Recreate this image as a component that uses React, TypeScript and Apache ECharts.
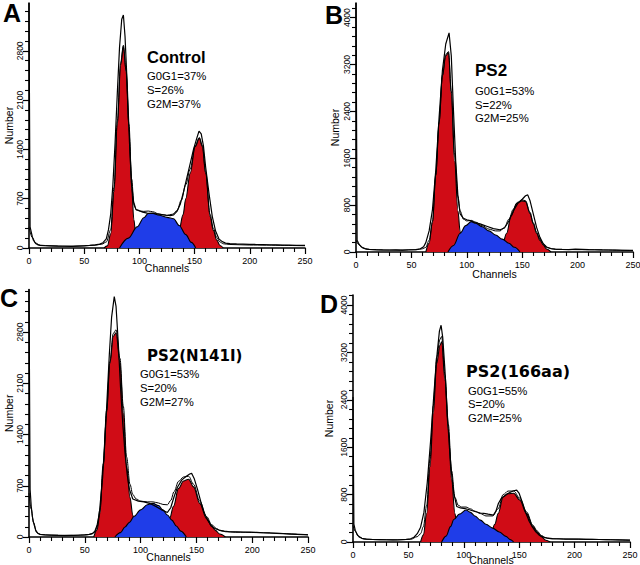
import React, { useEffect, useRef } from "react";
import * as echarts from "echarts";

// ---------- tick labels ----------
const X_LABELS = [0, 50, 100, 150, 200, 250];
const Y_LABELS_AC = [0, 700, 1400, 2100, 2800];
const Y_LABELS_BD = [0, 800, 1600, 2400, 3200, 4000];

// ---------- texts ----------
const PANEL_LETTERS = ["A", "B", "C", "D"];
const PANEL_TITLES = ["Control", "PS2", "PS2(N141I)", "PS2(166aa)"];
const G0G1 = [37, 53, 53, 55];
const S_PHASE = [26, 22, 20, 20];
const G2M = [37, 25, 27, 25];

// ---------- Panel A (Control) [channel, number] ----------
const A_G1 = [[68,0],[71,30],[74,200],[77,800],[80,1750],[83,2600],[85.5,2860],[88,2500],[90.5,1700],[93,850],[95,400],[97,130],[100,0]];
const A_S = [[82,0],[90,140],[98,300],[104,430],[108,490],[112,495],[118,465],[125,435],[131,415],[136,320],[142,190],[147,80],[151,0]];
const A_G2 = [[127,0],[132,100],[136,260],[139.5,470],[142,700],[146,1060],[150.5,1440],[154.3,1558],[157,1440],[160,1060],[164,450],[167,250],[170,114],[173,35],[176,0]];
const A_RAW = [[0,3480],[1,300],[2,230],[3,160],[4,110],[6,65],[8,45],[10,38],[14,32],[20,30],[26,26],[32,25],[38,24],[44,27],[50,30],[55,36],[60,45],[64,55],[67,75],[70,130],[72,260],[74,480],[76,900],[78,1500],[80,2200],[82,2850],[84,3250],[85.5,3310],[87,3000],[89,2300],[91,1500],[93,900],[95,620],[97,545],[100,530],[103,510],[107,495],[112,490],[118,480],[124,465],[128,460],[131,470],[134,520],[137,620],[140,800],[143,1000],[146,1200],[149,1400],[152,1560],[154,1660],[156,1620],[158,1450],[160,1150],[163,780],[166,450],[169,240],[172,130],[175,90],[178,70],[182,62],[188,58],[194,55],[200,52],[206,50],[212,48],[218,46],[224,44],[230,42],[236,40],[242,38],[250,36]];
const A_FIT = [[0,300],[3,150],[6,70],[10,40],[20,30],[40,25],[60,40],[66,55],[70,85],[74,260],[77,860],[80,1800],[83,2630],[85.5,2880],[88,2520],[90.5,1760],[93,980],[95,640],[97,545],[100,525],[104,520],[108,525],[112,515],[118,480],[125,465],[130,480],[134,530],[138,680],[142,900],[146,1120],[150.5,1450],[154.3,1570],[157,1460],[160,1080],[164,480],[167,280],[170,150],[173,85],[176,60],[182,50],[200,42],[250,32]];

// ---------- Panel B (PS2) ----------
const B_G1 = [[63,0],[66,150],[69,500],[72,1300],[75,2200],[78,3000],[81,3350],[83.5,3400],[86,2700],[89,1550],[92,700],[94,350],[96,120],[98,0]];
const B_S = [[83,0],[88,110],[94,320],[99,450],[104,518],[108,490],[114,430],[120,360],[126,290],[132,220],[138,150],[143,80],[148,0]];
const B_G2 = [[128,0],[132,120],[136,320],[140,620],[145,830],[150,872],[153,860],[157,660],[160,480],[163,320],[166,200],[169,120],[172,50],[176,0]];
const B_RAW = [[0,4250],[1,200],[2,160],[3,125],[5,85],[8,58],[12,45],[18,40],[24,36],[30,34],[36,35],[42,33],[48,38],[54,42],[58,55],[61,90],[63,160],[66,360],[69,720],[72,1400],[75,2300],[78,3100],[81,3550],[84,3740],[86,3350],[88,2400],[90,1550],[92,950],[94,650],[97,575],[100,550],[104,530],[108,500],[112,480],[118,440],[124,400],[130,380],[134,410],[138,530],[142,700],[146,830],[150,900],[153,960],[155,975],[157,880],[160,650],[163,420],[166,250],[169,140],[172,85],[176,60],[180,50],[186,45],[192,42],[198,48],[204,44],[210,40],[216,38],[222,35],[228,34],[234,32],[240,30],[250,28]];
const B_FIT = [[0,200],[3,120],[6,70],[10,45],[20,35],[40,30],[55,40],[60,55],[63,80],[66,200],[69,520],[72,1320],[75,2220],[78,3020],[81,3370],[83.5,3420],[86,2750],[89,1650],[92,950],[94,700],[97,560],[100,530],[104,540],[108,510],[114,450],[120,390],[126,360],[130,360],[134,420],[138,560],[142,730],[146,850],[150,890],[153,875],[157,680],[160,500],[163,340],[166,220],[169,140],[172,80],[176,55],[180,45],[200,40],[250,25]];

// ---------- Panel C (PS2(N141I)) ----------
const C_G1 = [[58,0],[61,100],[63.5,320],[66.5,950],[69.5,1690],[72.5,2370],[75.5,2740],[78,2790],[81.5,2380],[84.5,1690],[87.5,960],[90.5,540],[93,300],[95,130],[97,0]];
const C_S = [[77,0],[82,60],[86,137],[90,200],[94,280],[100,370],[106,440],[111,460],[116,430],[120,370],[124,300],[128,230],[132,150],[136,80],[141,0]];
const C_G2 = [[118,0],[122,100],[126,250],[129.5,420],[134,665],[138.5,765],[143,790],[147.5,685],[153,460],[159,255],[164,140],[167,90],[171,40],[176,0]];
const C_RAW = [[0,3380],[1,650],[2,420],[3,280],[4,200],[6,90],[8,50],[10,36],[14,28],[20,25],[26,22],[32,20],[38,22],[44,24],[50,28],[54,35],[57,50],[59,80],[61,160],[63,320],[66,820],[69,1600],[72,2500],[74,3000],[76.4,3283],[78,3150],[80,2650],[82,2050],[84,1550],[86,1150],[88,850],[90,650],[93,520],[98,490],[103,480],[108,460],[114,415],[119,370],[124,335],[127,400],[130,550],[133,680],[137,780],[141,830],[144,860],[145.7,870],[148,800],[151,650],[154,480],[157,330],[160,230],[163,160],[166,120],[170,95],[175,80],[180,72],[186,70],[192,68],[198,66],[204,62],[210,58],[216,55],[222,50],[228,45],[234,40],[240,35],[246,32],[250,30]];
const C_FIT = [[0,600],[2,380],[4,200],[7,60],[10,35],[20,25],[40,22],[52,30],[56,40],[59,65],[61,140],[63.5,370],[66.5,1000],[69.5,1730],[72.5,2400],[75.5,2780],[78,2830],[81.5,2440],[84.5,1790],[87.5,1090],[90.5,720],[93,580],[96,520],[100,490],[106,480],[111,480],[116,465],[120,445],[124,440],[127,500],[130,620],[134,760],[138.5,820],[143,830],[147.5,720],[153,490],[159,280],[164,165],[168,115],[172,85],[176,72],[185,65],[250,32]];

// ---------- Panel D (PS2(166aa)) ----------
const D_G1 = [[61,0],[63.5,120],[66.5,480],[69.5,1270],[72.5,2170],[75.5,3010],[78.5,3320],[80,3380],[83,2730],[86,1890],[89,1050],[92,480],[94,220],[96,60],[98,0]];
const D_S = [[80,0],[84,100],[88,260],[91,380],[96,470],[102,540],[106,500],[110,440],[115,370],[120,300],[126,235],[132,170],[138,95],[142,40],[145,0]];
const D_G2 = [[120,0],[124,120],[128,300],[131,480],[135.5,760],[140,815],[145,822],[150.5,710],[156.5,484],[162.5,260],[166,170],[170,90],[174,30],[178,0]];
const D_RAW = [[0,2450],[0.8,300],[2,200],[4,120],[6,82],[8,62],[12,48],[18,42],[24,40],[30,38],[36,36],[42,38],[48,44],[52,55],[55,80],[58,140],[61,250],[64,500],[67,1000],[70,1700],[73,2500],[76,3200],[78,3560],[79.5,3660],[81,3450],[83,2900],[85,2200],[87,1600],[89,1150],[91,820],[93.6,600],[97,575],[101,565],[105,545],[110,515],[115,490],[118,484],[122,470],[126.7,455],[129,520],[131.2,650],[134,740],[138,800],[142,840],[145,865],[147.7,877],[150,820],[153,660],[156,490],[159,350],[162,250],[165,170],[168,115],[172,82],[176,64],[180,58],[186,55],[192,50],[198,48],[204,50],[210,45],[216,46],[222,42],[228,40],[234,38],[240,36],[250,32]];
const D_FIT = [[0,280],[2,180],[5,90],[10,50],[20,40],[40,35],[52,45],[58,90],[61,140],[63.5,260],[66.5,620],[69.5,1400],[72.5,2300],[75.5,3120],[78.5,3420],[80,3470],[83,2820],[86,1990],[89,1200],[92,750],[95,620],[98,590],[102,590],[106,560],[110,520],[115,480],[120,440],[126,440],[131,560],[135.5,800],[140,860],[145,860],[150.5,740],[156.5,510],[162.5,280],[166,190],[170,110],[174,70],[178,55],[190,50],[250,30]];

const PANELS = [
  { g1: A_G1, s: A_S, g2: A_G2, raw: A_RAW, fit: A_FIT, yLabels: Y_LABELS_AC, yStep: 700 },
  { g1: B_G1, s: B_S, g2: B_G2, raw: B_RAW, fit: B_FIT, yLabels: Y_LABELS_BD, yStep: 800 },
  { g1: C_G1, s: C_S, g2: C_G2, raw: C_RAW, fit: C_FIT, yLabels: Y_LABELS_AC, yStep: 700 },
  { g1: D_G1, s: D_S, g2: D_G2, raw: D_RAW, fit: D_FIT, yLabels: Y_LABELS_BD, yStep: 800 },
];

const FONT = "'Liberation Sans', Arial, Helvetica, sans-serif";
const WIDE = "'DejaVu Sans', Verdana, sans-serif";

// layout (pixels); text y values are vertical centres of capitals
const LAYOUT = [
  { left: 29, top: 3, width: 276, height: 245, yMax: 3480, nameGapY: 14.5, nameGapX: 14.5,
    letter: [3, 13], title: [147, 56.5, `bold 16.5px ${FONT}`], stats: [147, 75.7, 14] },
  { left: 356, top: 3, width: 277, height: 249, yMax: 4250, nameGapY: 15.5, nameGapX: 16,
    letter: [325, 15], title: [475, 70.4, `bold 17px ${FONT}`], stats: [475, 90.7, 13.8] },
  { left: 29, top: 289.6, width: 279, height: 247.4, yMax: 3380, nameGapY: 14.5, nameGapX: 14,
    letter: [0, 297.5], title: [147, 356, `bold 15px ${WIDE}`], stats: [140, 374, 14] },
  { left: 353, top: 295, width: 277, height: 247, yMax: 4170, nameGapY: 18.5, nameGapX: 12.5,
    letter: [320, 304], title: [466, 371, `bold 16px ${WIDE}`], stats: [468, 390.7, 13.7] },
];

const RED = "#d00c16";
const BLUE = "#1f3de8";

export default function App() {
  const ref = useRef<HTMLDivElement>(null);
  useEffect(() => {
    document.body.style.margin = "0";
    if (!ref.current) return;
    const chart = echarts.init(ref.current, undefined, { renderer: "svg" });

    const grid: any[] = [];
    const xAxis: any[] = [];
    const yAxis: any[] = [];
    const series: any[] = [];
    const graphic: any[] = [];

    PANELS.forEach((p, i) => {
      const L: any = LAYOUT[i];
      grid.push({ left: L.left, top: L.top, width: L.width, height: L.height, containLabel: false, outerBoundsMode: "none" });
      xAxis.push({
        type: "value", gridIndex: i, min: 0, max: 250, interval: 50,
        axisLine: { show: true, onZero: false, lineStyle: { color: "#000", width: 1.6 } },
        axisTick: { show: true, length: 6, lineStyle: { color: "#000", width: 1.2 } },
        minorTick: { show: true, splitNumber: 5, length: 4, lineStyle: { color: "#000", width: 1.1 } },
        splitLine: { show: false }, minorSplitLine: { show: false },
        axisLabel: { fontSize: 9, color: "#000", margin: 8, fontFamily: FONT, customValues: X_LABELS,
          formatter: (v: number) => String(v) },
        name: "Channels", nameLocation: "middle", nameGap: L.nameGapX, nameMoveOverlap: false,
        nameTextStyle: { fontSize: 10.5, color: "#000", fontFamily: FONT },
      });
      yAxis.push({
        type: "value", gridIndex: i, min: 0, max: L.yMax, interval: p.yStep,
        axisLine: { show: true, onZero: false, lineStyle: { color: "#000", width: 1.6 } },
        axisTick: { show: true, length: 6, customValues: p.yLabels, lineStyle: { color: "#000", width: 1.2 } },
        minorTick: { show: true, splitNumber: 5, length: 4, lineStyle: { color: "#000", width: 1.1 } },
        splitLine: { show: false }, minorSplitLine: { show: false },
        axisLabel: { rotate: 90, fontSize: 8.5, color: "#000", margin: 5, fontFamily: FONT, customValues: p.yLabels,
          formatter: (v: number) => String(v) },
        name: "Number", nameLocation: "middle", nameGap: L.nameGapY,
        nameTextStyle: { fontSize: 10.5, color: "#000", fontFamily: FONT },
      });
      const area = (data: number[][], color: string, z: number) => ({
        type: "line", xAxisIndex: i, yAxisIndex: i, data, smooth: 0.35, smoothMonotone: "x",
        symbol: "none", showSymbol: false, silent: true, z,
        lineStyle: { color: "#000", width: 1.1 },
        areaStyle: { color, opacity: 1 },
      });
      series.push(area(p.g1, RED, 2));
      series.push(area(p.g2, RED, 2));
      series.push(area(p.s, BLUE, 3));
      series.push({
        type: "line", xAxisIndex: i, yAxisIndex: i, data: p.fit, smooth: 0.35, smoothMonotone: "x",
        symbol: "none", silent: true, z: 4, lineStyle: { color: "#000", width: 1 },
      });
      series.push({
        type: "line", xAxisIndex: i, yAxisIndex: i, data: p.raw, smooth: false,
        symbol: "none", silent: true, z: 5, lineStyle: { color: "#000", width: 1.2 },
      });

      graphic.push({
        type: "text", x: L.letter[0], y: L.letter[1],
        style: { text: PANEL_LETTERS[i], font: `bold 25px ${FONT}`, fill: "#000", verticalAlign: "middle" },
      });
      graphic.push({
        type: "text", x: L.title[0], y: L.title[1],
        style: { text: PANEL_TITLES[i], font: L.title[2], fill: "#000", verticalAlign: "middle" },
      });
      const lines = [`G0G1=${G0G1[i]}%`, `S=${S_PHASE[i]}%`, `G2M=${G2M[i]}%`];
      lines.forEach((t, k) => {
        graphic.push({
          type: "text", x: L.stats[0], y: L.stats[1] + k * L.stats[2],
          style: { text: t, font: `11.3px ${FONT}`, fill: "#000", verticalAlign: "middle" },
        });
      });
    });

    chart.setOption({
      animation: false,
      backgroundColor: "#fff",
      grid, xAxis, yAxis, series, graphic,
    });
    return () => chart.dispose();
  }, []);
  return <div ref={ref} style={{ width: 640, height: 565 }} />;
}
